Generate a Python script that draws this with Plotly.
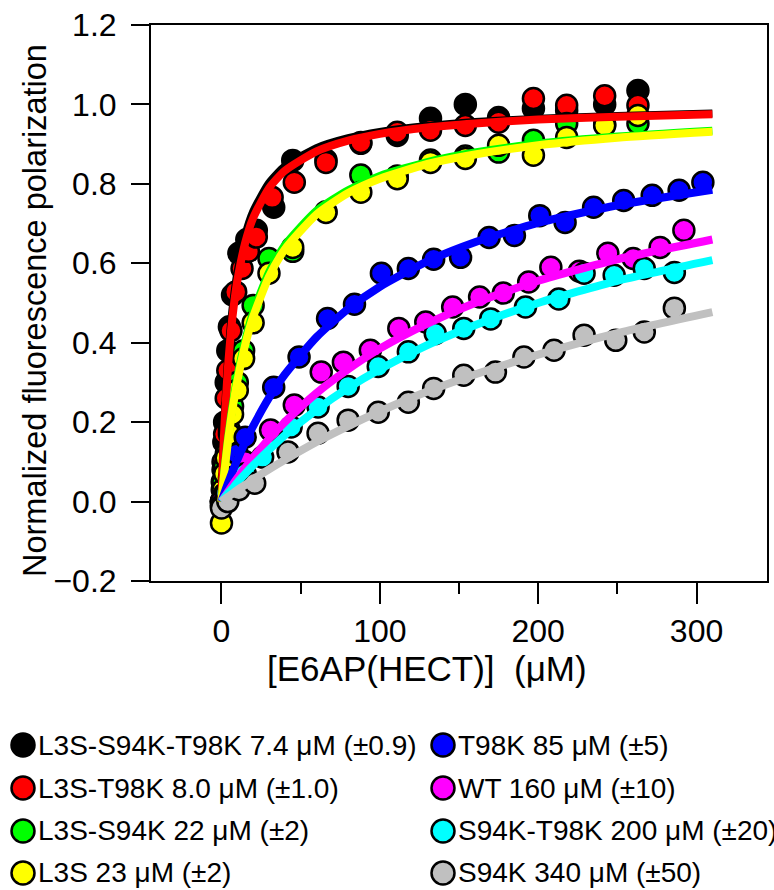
import plotly.graph_objects as go

# ---------------- data ----------------
names = [
    "L3S-S94K-T98K 7.4 \u03bcM (\u00b10.9)",
    "L3S-T98K 8.0 \u03bcM (\u00b11.0)",
    "L3S-S94K 22 \u03bcM (\u00b12)",
    "L3S 23 \u03bcM (\u00b12)",
    "T98K 85 \u03bcM (\u00b15)",
    "WT 160 \u03bcM (\u00b110)",
    "S94K-T98K 200 \u03bcM (\u00b120)",
    "S94K 340 \u03bcM (\u00b150)",
]
colors = ["#000000", "#ff0000", "#00ff00", "#ffff00",
          "#0000ff", "#ff00ff", "#00ffff", "#c0c0c0"]

# measured points
black_x = [0, 0.5, 1, 1.5, 2, 3, 4, 5, 7, 11, 16, 22, 33, 45, 66, 88, 111, 132, 154, 175, 197, 218, 242, 263]
black_y = [-0.01, 0.03, 0.08, 0.15, 0.20, 0.30, 0.38, 0.44, 0.52, 0.625, 0.66, 0.683, 0.741, 0.859, 0.86, 0.902, 0.922, 0.965, 1.0, 0.967, 0.99, 0.985, 1.0, 1.035]
red_x = [0, 0.5, 1, 2, 3, 4, 6, 9, 13, 17, 22, 32, 46, 66, 88, 111, 132, 154, 175, 197, 218, 242, 263]
red_y = [0.0, 0.05, 0.10, 0.17, 0.26, 0.33, 0.43, 0.528, 0.587, 0.63, 0.666, 0.766, 0.804, 0.854, 0.904, 0.93, 0.935, 0.947, 0.955, 1.015, 0.998, 1.022, 0.998]
green_x = [0, 1, 2, 3, 5, 7, 10, 14, 20, 30, 45, 66, 88, 111, 132, 154, 175, 197, 218, 242, 263]
green_y = [0.0, 0.05, 0.09, 0.12, 0.18, 0.24, 0.30, 0.38, 0.494, 0.612, 0.63, 0.73, 0.822, 0.82, 0.86, 0.87, 0.88, 0.91, 0.952, 0.95, 0.952]
yellow_x = [0, 1, 2, 3, 5, 7, 10, 14, 20, 30, 45, 66, 88, 111, 132, 154, 175, 197, 218, 242, 263]
yellow_y = [-0.054, 0.03, 0.07, 0.11, 0.17, 0.22, 0.28, 0.36, 0.45, 0.575, 0.64, 0.728, 0.779, 0.813, 0.854, 0.864, 0.897, 0.872, 0.917, 0.947, 0.972]
blue_x = [0, 2, 5, 10, 15, 33, 49, 67, 84, 101, 118, 134, 151, 169, 185, 201, 217, 235, 254, 272, 289, 304]
blue_y = [0.0, 0.02, 0.06, 0.12, 0.162, 0.288, 0.364, 0.461, 0.497, 0.575, 0.587, 0.61, 0.615, 0.665, 0.67, 0.72, 0.703, 0.741, 0.758, 0.771, 0.784, 0.804]
magenta_x = [0, 3, 8, 15, 31, 46, 63, 77, 94, 112, 129, 146, 163, 178, 194, 208, 226, 244, 260, 277, 292]
magenta_y = [0.0, 0.02, 0.05, 0.10, 0.18, 0.243, 0.326, 0.351, 0.381, 0.436, 0.452, 0.49, 0.515, 0.525, 0.553, 0.59, 0.58, 0.625, 0.612, 0.64, 0.683]
cyan_x = [0, 3, 8, 15, 26, 44, 61, 80, 99, 118, 135, 153, 170, 192, 213, 229, 248, 267, 286]
cyan_y = [-0.01, 0.02, 0.04, 0.07, 0.112, 0.188, 0.238, 0.29, 0.34, 0.377, 0.423, 0.436, 0.46, 0.49, 0.51, 0.575, 0.57, 0.587, 0.577]
gray_x = [0, 4, 11, 21, 42, 61, 80, 99, 118, 134, 153, 173, 191, 210, 229, 249, 267, 286]
gray_y = [-0.016, 0.0, 0.03, 0.046, 0.125, 0.172, 0.205, 0.225, 0.25, 0.285, 0.318, 0.326, 0.364, 0.381, 0.419, 0.406, 0.427, 0.487]

# fitted binding curves
curve_x = [0, 1, 2, 4, 6, 8, 10, 15, 20, 30, 40, 60, 80, 100, 130, 160, 200, 250, 310]
black_fit = [0, 0.119, 0.213, 0.351, 0.448, 0.519, 0.575, 0.670, 0.730, 0.802, 0.844, 0.890, 0.915, 0.931, 0.946, 0.956, 0.964, 0.971, 0.977]
red_fit = [0, 0.111, 0.200, 0.333, 0.429, 0.500, 0.556, 0.652, 0.714, 0.789, 0.833, 0.882, 0.909, 0.926, 0.942, 0.952, 0.962, 0.969, 0.975]
green_fit = [0, 0.043, 0.083, 0.154, 0.214, 0.267, 0.313, 0.405, 0.476, 0.577, 0.645, 0.732, 0.784, 0.820, 0.855, 0.879, 0.901, 0.919, 0.934]
yellow_fit = [0, 0.042, 0.080, 0.148, 0.207, 0.258, 0.303, 0.395, 0.465, 0.566, 0.635, 0.723, 0.777, 0.813, 0.850, 0.874, 0.897, 0.916, 0.931]
blue_fit = [0, 0.012, 0.023, 0.045, 0.066, 0.086, 0.105, 0.150, 0.190, 0.261, 0.320, 0.414, 0.485, 0.541, 0.605, 0.653, 0.702, 0.746, 0.785]
magenta_fit = [0, 0.006, 0.012, 0.024, 0.036, 0.048, 0.059, 0.086, 0.111, 0.158, 0.200, 0.273, 0.333, 0.385, 0.448, 0.500, 0.556, 0.610, 0.660]
cyan_fit = [0, 0.005, 0.010, 0.020, 0.029, 0.038, 0.048, 0.070, 0.091, 0.130, 0.167, 0.231, 0.286, 0.333, 0.394, 0.444, 0.500, 0.556, 0.608]
gray_fit = [0, 0.003, 0.006, 0.012, 0.017, 0.023, 0.029, 0.042, 0.056, 0.081, 0.105, 0.150, 0.190, 0.227, 0.277, 0.320, 0.370, 0.424, 0.477]

x_ticks = [0, 100, 200, 300]
x_minor_ticks = [50, 150, 250]
y_ticks = [-0.2, 0.0, 0.2, 0.4, 0.6, 0.8, 1.0, 1.2]
x_title = "[E6AP(HECT)]  (\u03bcM)"
y_title = "Normalized fluorescence polarization"

points = [(black_x, black_y), (red_x, red_y), (green_x, green_y), (yellow_x, yellow_y),
          (blue_x, blue_y), (magenta_x, magenta_y), (cyan_x, cyan_y), (gray_x, gray_y)]
fits = [black_fit, red_fit, green_fit, yellow_fit, blue_fit, magenta_fit, cyan_fit, gray_fit]

# ---------------- figure ----------------
W, H = 774, 890
L, R, T, B = 151, 7, 25, 309
PW, PH = W - L - R, H - T - B
FONT = "Liberation Sans, Arial, sans-serif"

fig = go.Figure()
for (px, py), c, n in zip(points, colors, names):
    fig.add_trace(go.Scatter(
        x=px, y=py, mode="markers", name=n, showlegend=False, cliponaxis=False,
        marker=dict(size=21, color=c, line=dict(color="black", width=2.5))))
for f, c, n in zip(fits, colors, names):
    fig.add_trace(go.Scatter(
        x=curve_x, y=f, mode="lines", name=n + " fit", showlegend=False,
        line=dict(color=c, width=8, shape="spline", smoothing=0.6)))

# custom legend (two columns of four entries) below the plot
shapes, annots = [], []
col_px = [23, 443]
row_py = [745, 788, 831, 873]
for i, (n, c) in enumerate(zip(names, colors)):
    col, row = divmod(i, 4)
    cx = (col_px[col] - L) / PW
    cy = (H - B - row_py[row]) / PH
    shapes.append(dict(type="circle", xref="paper", yref="paper",
                       xsizemode="pixel", ysizemode="pixel",
                       xanchor=cx, yanchor=cy, x0=-11.5, x1=11.5, y0=-11.5, y1=11.5,
                       fillcolor=c, line=dict(color="black", width=2.5)))
    annots.append(dict(xref="paper", yref="paper", x=cx, y=cy, xshift=13,
                       text=n, showarrow=False, xanchor="left", yanchor="middle",
                       font=dict(size=28, color="black", family=FONT)))

# axis titles placed where the reference shows them
annots.append(dict(xref="paper", yref="paper", x=(427 - L) / PW, y=(H - B - 668) / PH,
                   text=x_title, showarrow=False, xanchor="center", yanchor="middle",
                   font=dict(size=35, color="black", family=FONT)))
annots.append(dict(xref="paper", yref="paper", x=(35 - L) / PW, y=(H - B - 311) / PH,
                   text=y_title, showarrow=False, textangle=-90,
                   xanchor="center", yanchor="middle",
                   font=dict(size=32.5, color="black", family=FONT)))

fig.update_layout(
    width=W, height=H,
    margin=dict(l=L, r=R, t=T, b=B),
    paper_bgcolor="white", plot_bgcolor="white",
    font=dict(family=FONT, color="black"),
    showlegend=False,
    shapes=shapes, annotations=annots,
)
fig.update_xaxes(
    range=[-44.5, 344.5], showline=True, linecolor="black", linewidth=2, mirror=True,
    showgrid=False, zeroline=False, ticks="outside", ticklen=21, tickwidth=2,
    tickcolor="black", tickvals=x_ticks, tickfont=dict(size=32),
    minor=dict(tickvals=x_minor_ticks, ticks="outside", ticklen=11, tickwidth=2,
               tickcolor="black", showgrid=False),
    automargin=False,
)
fig.update_yaxes(
    range=[-0.2, 1.2], showline=True, linecolor="black", linewidth=2, mirror=True,
    showgrid=False, zeroline=False, ticks="outside", ticklen=18, tickwidth=2,
    tickcolor="black", tickvals=y_ticks, tickformat=".1f", tickfont=dict(size=32),
    ticklabelstandoff=8, automargin=False,
)

fig.write_html("out.html", config={"displayModeBar": False},
               post_script="document.body.style.margin='0';")
